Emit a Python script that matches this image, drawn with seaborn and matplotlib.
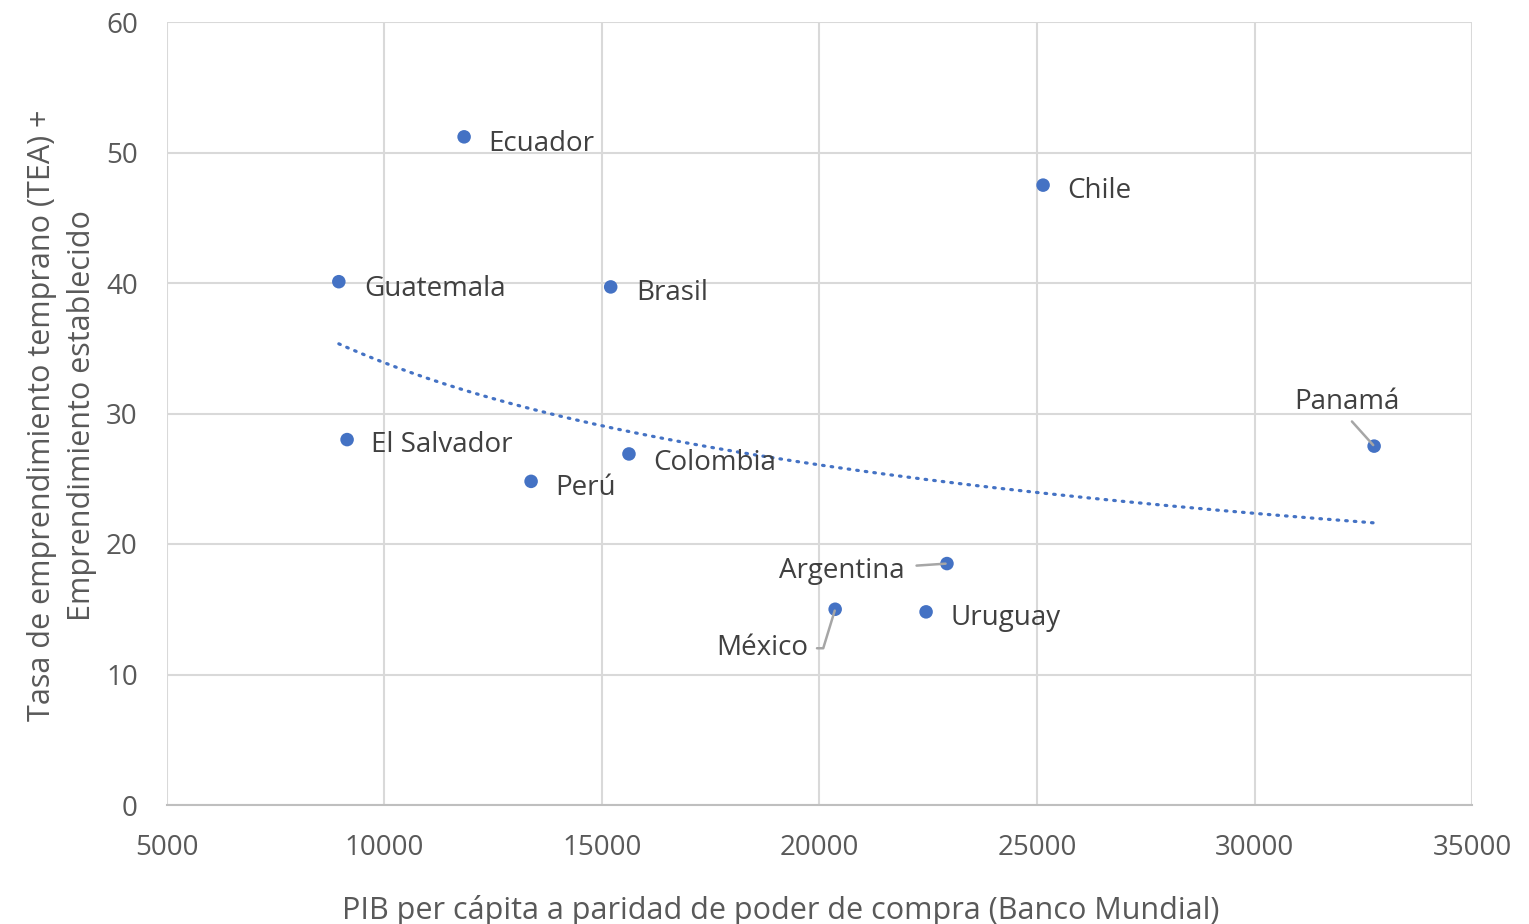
import numpy as np
import pandas as pd
import matplotlib
matplotlib.use("Agg")
import matplotlib.pyplot as plt
import seaborn as sns

countries = ["Ecuador", "Chile", "Guatemala", "Brasil", "El Salvador", "Perú",
             "Colombia", "Panamá", "Argentina", "México", "Uruguay"]
gdp_ppp = [11830, 25140, 8950, 15200, 9140, 13370, 15620, 32750, 22930, 20360, 22450]
tea_plus_est = [51.2, 47.5, 40.1, 39.7, 28.0, 24.8, 26.9, 27.5, 18.5, 15.0, 14.8]

x_ticks = [5000, 10000, 15000, 20000, 25000, 30000, 35000]
y_ticks = [0, 10, 20, 30, 40, 50, 60]
x_title = "PIB per cápita a paridad de poder de compra (Banco Mundial)"
y_title = "Tasa de emprendimiento temprano (TEA) +\nEmprendimiento establecido"

df = pd.DataFrame({"pais": countries, "pib": gdp_ppp, "tasa": tea_plus_est})

sns.set_theme(style="white")
plt.rcParams["font.family"] = ["Open Sans", "DejaVu Sans"]

BLUE = "#4472C4"
TXT = "#595959"
GRID = "#d9d9d9"

fig = plt.figure(figsize=(15.29, 9.24), dpi=100)
ax = fig.add_axes([167/1529, 1-805/924, (1472-167)/1529, (805-22)/924])

# power trendline (least squares in log-log space, as a spreadsheet does)
d, c = np.polyfit(np.log(df["pib"]), np.log(df["tasa"]), 1)
xt = np.linspace(df["pib"].min(), df["pib"].max(), 200)
yt = np.exp(c) * xt ** d
sns.lineplot(x=xt, y=yt, ax=ax, color=BLUE, lw=2.3, linestyle=(0, (0.5, 2.2)),
             dash_capstyle="round", zorder=3)

sns.scatterplot(data=df, x="pib", y="tasa", ax=ax, color=BLUE, s=95,
                edgecolor="none", zorder=4)

ax.set_xlim(5000, 35000)
ax.set_ylim(0, 60)
ax.set_xticks(x_ticks)
ax.set_yticks(y_ticks)
ax.set_xticklabels([str(v) for v in x_ticks])
ax.set_yticklabels([str(v) for v in y_ticks])
ax.tick_params(axis="both", length=0, labelsize=20, colors=TXT)
ax.tick_params(axis="x", pad=21)
ax.tick_params(axis="y", pad=21)

ax.grid(True, color=GRID, lw=1.5)
ax.set_axisbelow(True)
for s in ["top", "right", "left"]:
    ax.spines[s].set_visible(False)
ax.spines["bottom"].set_color("#bfbfbf")
ax.spines["bottom"].set_linewidth(1.5)

ax.set_xlabel(x_title, fontsize=22, color=TXT)
ax.set_ylabel(y_title, fontsize=22, color=TXT, linespacing=1.4)
ax.xaxis.set_label_coords(0.4705, -0.1145)
ax.yaxis.set_label_coords(-0.054, 0.498)

# label offsets in pixels (dx, dy, ha)
offsets = {
    "Ecuador": (24, -7, "left"),
    "Chile": (24, -6, "left"),
    "Guatemala": (25, -7, "left"),
    "Brasil": (26, -6, "left"),
    "El Salvador": (24, -5, "left"),
    "Perú": (24, -7, "left"),
    "Colombia": (24, -9, "left"),
    "Uruguay": (24, -6, "left"),
    "Panamá": (-27, 44, "center"),
    "Argentina": (-42, -7, "right"),
    "México": (-27, -39, "right"),
}
leader = dict(arrowstyle="-", color="#a6a6a6", lw=1.8, shrinkB=1)
for _, r in df.iterrows():
    dx, dy, ha = offsets[r["pais"]]
    kw = {}
    if r["pais"] == "Panamá":
        kw["arrowprops"] = dict(leader, shrinkA=2, relpos=(0.5, 0.0))
    elif r["pais"] == "Argentina":
        kw["arrowprops"] = dict(leader, shrinkA=6)
    elif r["pais"] == "México":
        kw["arrowprops"] = dict(leader, shrinkA=4,
                                connectionstyle="angle,angleA=0,angleB=73,rad=0")
    ax.annotate(r["pais"], (r["pib"], r["tasa"]), xytext=(dx, dy),
                textcoords="offset pixels", ha=ha, va="center",
                fontsize=20, color="#404040", zorder=5, **kw)

fig.savefig("out.png", dpi=100)
